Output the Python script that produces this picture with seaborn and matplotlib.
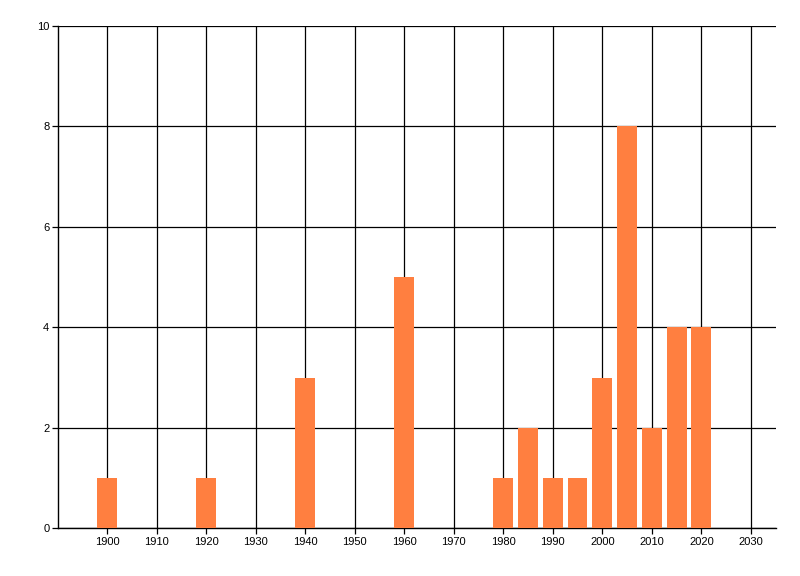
import matplotlib
matplotlib.use("Agg")
import matplotlib.pyplot as plt
import seaborn as sns
import numpy as np

# data
years = [1900, 1920, 1940, 1960, 1980, 1985, 1990, 1995, 2000, 2005, 2010, 2015, 2020]
counts = [1, 1, 3, 5, 1, 2, 1, 1, 3, 8, 2, 4, 4]
xticks = list(range(1900, 2031, 10))
yticks = [0, 2, 4, 6, 8, 10]

sns.set_style("white")
plt.rcParams['font.family'] = ['Liberation Sans', 'DejaVu Sans']

fig = plt.figure(figsize=(8, 5.76), dpi=100)
ax = fig.add_axes([0.072, 0.0828, 0.8976, 0.8721])

sns.barplot(x=years, y=counts, native_scale=True, color="#FF7F40",
            saturation=1, width=0.8, ax=ax, zorder=3, edgecolor="none")

ax.set_xlim(1890, 2035)
ax.set_ylim(0, 10)
ax.set_xticks(xticks)
ax.set_xticklabels([str(t) for t in xticks])
ax.set_yticks(yticks)
ax.grid(True, color="black", linewidth=0.9, zorder=0)
ax.set_axisbelow(True)

for s in ["top", "right"]:
    ax.spines[s].set_visible(False)
for s in ["left", "bottom"]:
    ax.spines[s].set_color("black")
    ax.spines[s].set_linewidth(1.0)

ax.tick_params(axis="both", which="both", length=4, width=0.9, color="black",
               labelsize=8, labelcolor="black", direction="out")
ax.tick_params(axis="x", bottom=True, pad=2)
ax.tick_params(axis="y", left=True, pad=2)
ax.set_xlabel("")
ax.set_ylabel("")

fig.savefig("out.png", dpi=100)
